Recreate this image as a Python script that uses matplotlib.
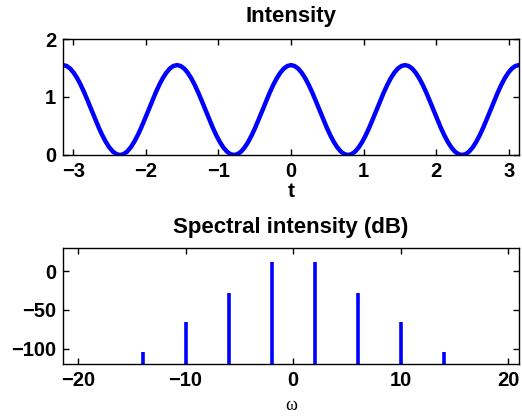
import numpy as np
import matplotlib
matplotlib.use("Agg")
import matplotlib.pyplot as plt

plt.rcParams['font.family'] = ['Liberation Sans', 'DejaVu Sans']
plt.rcParams['font.weight'] = 'bold'

# --- data ---
# time samples (step pi/64 over [-pi, pi])
t = np.linspace(-np.pi, np.pi, 129)
# one period of the intensity pattern (peak -> zero -> peak)
period_vals = [1.550, 1.535, 1.491, 1.419, 1.323, 1.206, 1.072, 0.926,
               0.775, 0.624, 0.478, 0.344, 0.227, 0.131, 0.059, 0.015,
               0.000, 0.015, 0.059, 0.131, 0.227, 0.344, 0.478, 0.624,
               0.775, 0.926, 1.072, 1.206, 1.323, 1.419, 1.491, 1.535]
intensity = period_vals * 4 + [1.550]

omega = [-14, -10, -6, -2, 2, 6, 10, 14]
spec_db = [-105, -66, -28, 12, 12, -28, -66, -105]

top_xticks = [-3, -2, -1, 0, 1, 2, 3]
top_yticks = [0, 1, 2]
bot_xticks = [-20, -10, 0, 10, 20]
bot_yticks = [-100, -50, 0]

fig = plt.figure(figsize=(5.22, 4.17), dpi=100)
W, H = 522, 417
ax1 = fig.add_axes([63/W, 1-155/H, (519-63)/W, (155-39)/H])
ax2 = fig.add_axes([63/W, 1-364/H, (519-63)/W, (364-248)/H])

blue = '#0000ff'
ax1.plot(t, intensity, color=blue, lw=3.2)
ax1.set_xlim(-np.pi, np.pi)
ax1.set_ylim(0, 2)
ax1.set_xticks(top_xticks)
ax1.set_xticklabels(['\u22123', '\u22122', '\u22121', '0', '1', '2', '3'])
ax1.set_yticks(top_yticks)
ax1.set_title('Intensity', fontsize=16, fontweight='bold', pad=12)
ax1.set_xlabel('t', fontsize=15, fontweight='bold', labelpad=1)

ylo = -120
ax2.vlines(omega, ylo, spec_db, colors=blue, lw=2.6)
ax2.set_xlim(-21.4, 21.0)
ax2.set_ylim(ylo, 30)
ax2.set_xticks(bot_xticks)
ax2.set_xticklabels(['\u221220', '\u221210', '0', '10', '20'])
ax2.set_yticks(bot_yticks)
ax2.set_yticklabels(['\u2212100', '\u221250', '0'])
ax2.set_title('Spectral intensity (dB)', fontsize=16, fontweight='bold', pad=11)
ax2.set_xlabel('\u03c9', fontsize=13, fontweight='normal',
               family=['Liberation Serif', 'DejaVu Serif'], labelpad=5)

for ax in (ax1, ax2):
    ax.tick_params(direction='in', length=4, width=1, top=True, right=True,
                   labelsize=14.5, pad=5)
    for lab in ax.get_xticklabels() + ax.get_yticklabels():
        lab.set_fontweight('bold')
    for s in ax.spines.values():
        s.set_linewidth(1.0)

fig.savefig('out.png', dpi=100)
